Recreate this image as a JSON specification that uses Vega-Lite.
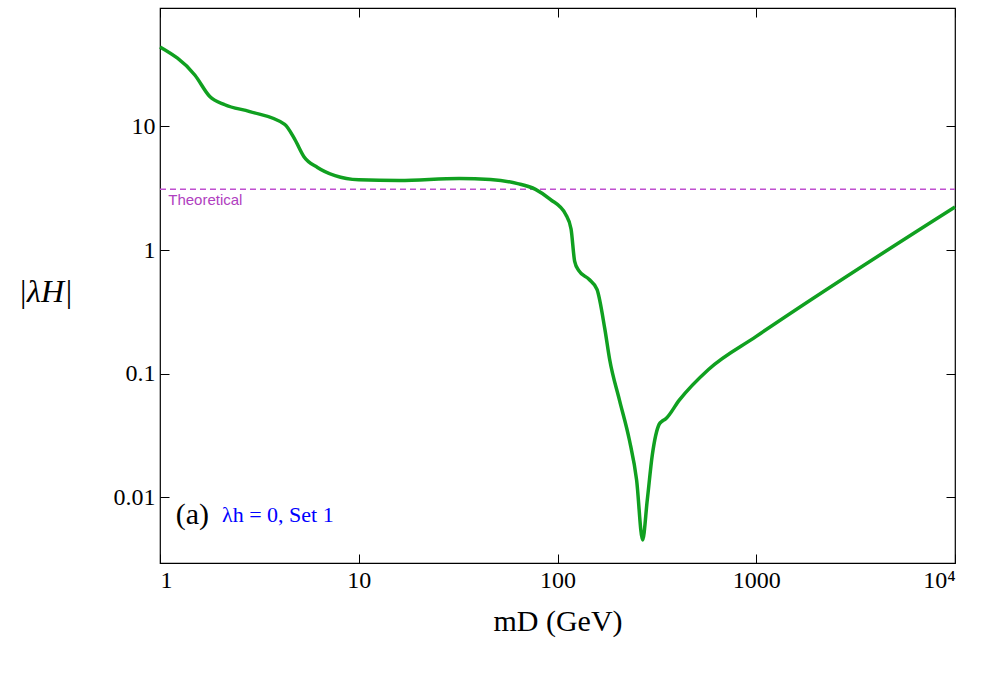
{
"$schema":"https://vega.github.io/schema/vega-lite/v6.json",
"autosize":"none","width":795,"height":555,
"padding":{"left":160,"top":8,"right":27,"bottom":115},
"background":"white",
"config":{"view":{"stroke":"black","strokeWidth":1.2},
"axis":{"labelFont":"Liberation Serif","labelFontSize":24,"labelColor":"black","tickColor":"black","domain":false,"grid":false,"ticks":true,"tickSize":-9,"tickWidth":1,"titleFont":"Liberation Serif","titleColor":"black","titleFontWeight":"normal"}},
"datasets":{"curve":[
{"m":1,"lam":44},{"m":1.5,"lam":26},{"m":1.78,"lam":17.5},{"m":2.12,"lam":15},{"m":2.83,"lam":13.2},{"m":4.24,"lam":10.4},{"m":4.76,"lam":7.9},{"m":5.3,"lam":5.7},{"m":6.2,"lam":4.66},{"m":7.6,"lam":4.0},{"m":10,"lam":3.7},{"m":16,"lam":3.65},{"m":32,"lam":3.8},{"m":46,"lam":3.72},{"m":63,"lam":3.45},{"m":77.5,"lam":3.1},{"m":92,"lam":2.57},{"m":110,"lam":1.94},{"m":117,"lam":1.48},{"m":122,"lam":0.81},{"m":128,"lam":0.68},{"m":144,"lam":0.58},{"m":158,"lam":0.48},{"m":173,"lam":0.23},{"m":183,"lam":0.13},{"m":205,"lam":0.061},{"m":230,"lam":0.029},{"m":250,"lam":0.0138},{"m":268,"lam":0.0045},{"m":283,"lam":0.0095},{"m":300,"lam":0.022},{"m":325,"lam":0.039},{"m":335,"lam":0.041},{"m":350,"lam":0.043},{"m":410,"lam":0.061},{"m":575,"lam":0.108},{"m":1000,"lam":0.2},{"m":10000,"lam":2.23}],
"theo":[{"m":1,"lam":3.1},{"m":10000,"lam":3.1}]},
"layer":[
{"data":{"name":"theo"},"mark":{"type":"line","color":"#c050d0","strokeDash":[6,4],"strokeWidth":1.5},
"encoding":{"x":{"field":"m","type":"quantitative","scale":{"type":"log","domain":[1,10000],"nice":false},"axis":{"orient":"top","labels":false,"title":null,"values":[1,10,100,1000,10000]}},
"y":{"field":"lam","type":"quantitative","scale":{"type":"log","domain":[0.00293,91],"nice":false},"axis":{"orient":"right","labels":false,"title":null,"values":[0.01,0.1,1,10]}}}},
{"data":{"name":"curve"},"mark":{"type":"line","color":"#10a020","strokeWidth":3.5,"interpolate":"monotone"},
"encoding":{"x":{"field":"m","type":"quantitative","axis":{"orient":"bottom","values":[1,10,100,1000,10000],"labelExpr":"datum.value==10000?'10⁴':format(datum.value,'d')","labelPadding":14,"title":"mD (GeV)","titleFontSize":30,"titlePadding":14}},
"y":{"field":"lam","type":"quantitative","axis":{"orient":"left","values":[0.01,0.1,1,10],"labelExpr":"datum.value>=1?format(datum.value,'d'):format(datum.value,'')","labelPadding":14,"title":"|λH|","titleAngle":0,"titleFontSize":32,"titleFontStyle":"italic","titleX":-115,"titleY":300}}}},
{"data":{"values":[{"m":1.1,"lam":2.55,"t":"Theoretical"}]},"mark":{"type":"text","align":"left","color":"#b040c0","font":"Liberation Sans","fontSize":15},
"encoding":{"x":{"field":"m","type":"quantitative","axis":null},"y":{"field":"lam","type":"quantitative","axis":null},"text":{"field":"t"}}},
{"data":{"values":[{"m":1.2,"lam":0.0072,"t":"(a)"}]},"mark":{"type":"text","align":"left","color":"black","font":"Liberation Serif","fontSize":30},
"encoding":{"x":{"field":"m","type":"quantitative","axis":null},"y":{"field":"lam","type":"quantitative","axis":null},"text":{"field":"t"}}},
{"data":{"values":[{"m":2.05,"lam":0.0072,"t":"λh = 0,  Set 1"}]},"mark":{"type":"text","align":"left","color":"blue","font":"Liberation Serif","fontSize":22},
"encoding":{"x":{"field":"m","type":"quantitative","axis":null},"y":{"field":"lam","type":"quantitative","axis":null},"text":{"field":"t"}}}
],
"resolve":{"axis":{"x":"independent","y":"independent"}}
}
